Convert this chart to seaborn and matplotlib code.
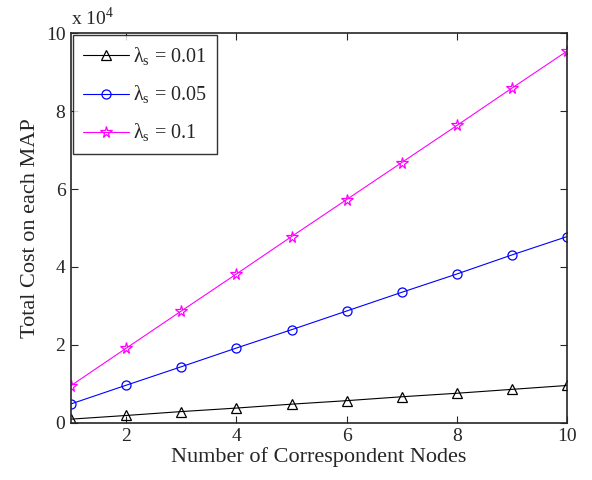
import pandas as pd
import seaborn as sns
import matplotlib.pyplot as plt

# data (values in units of 1e4)
nodes = [1, 2, 3, 4, 5, 6, 7, 8, 9, 10]
cost_001 = [0.096, 0.19, 0.29, 0.38, 0.48, 0.57, 0.67, 0.76, 0.86, 0.96]
cost_005 = [0.487, 0.966, 1.44, 1.92, 2.39, 2.87, 3.35, 3.82, 4.31, 4.78]
cost_01 = [0.957, 1.915, 2.87, 3.82, 4.78, 5.73, 6.68, 7.63, 8.59, 9.54]
labels = ['λ$_\\mathrm{s}$ = 0.01', 'λ$_\\mathrm{s}$ = 0.05', 'λ$_\\mathrm{s}$ = 0.1']
yticks = [0, 2, 4, 6, 8, 10]

sns.set_style('ticks')
plt.rcParams['font.family'] = ['Liberation Serif', 'DejaVu Serif']
plt.rcParams['mathtext.fontset'] = 'custom'
plt.rcParams['mathtext.rm'] = 'Liberation Serif'

fig = plt.figure(figsize=(5.92, 4.8), dpi=100)
ax = fig.add_axes([0.12, 0.119, 0.838, 0.812])

series = [(cost_001, 'black', '^', 7), (cost_005, 'blue', 'o', 6.5), (cost_01, 'magenta', '*', 8.5)]
for (vals, col, mk, ms), lab in zip(series, labels):
    df = pd.DataFrame({'x': nodes, 'y': vals})
    sns.lineplot(data=df, x='x', y='y', ax=ax, color=col, marker=mk, markersize=ms,
                 mfc='none', mec=col, mew=0.9, lw=0.8, label=lab)

ax.set_xlim(1, 10)
ax.set_ylim(0, 10)
ax.set_xticks([2, 4, 6, 8, 10])
ax.set_yticks(yticks)
ax.set_yticklabels([str(t) for t in yticks])
ax.tick_params(direction='in', top=True, right=True, labelsize=14, length=5, width=0.8, pad=4)
for s in ax.spines.values():
    s.set_linewidth(1.2)
    s.set_visible(True)

ax.set_xlabel('Number of Correspondent Nodes', fontsize=16, labelpad=1)
ax.set_ylabel('Total Cost on each MAP', fontsize=16, labelpad=4)
ax.text(0.0, 1.01, 'x 10$^4$', transform=ax.transAxes, fontsize=14, ha='left', va='bottom')

leg = ax.legend(loc='upper left', fontsize=14.5, frameon=True, fancybox=False, edgecolor='black',
                borderaxespad=0.1, handlelength=2.3, handletextpad=0.2, labelspacing=0.8,
                borderpad=0.5)
leg.get_frame().set_linewidth(1.0)

fig.savefig('out.png', dpi=100)
